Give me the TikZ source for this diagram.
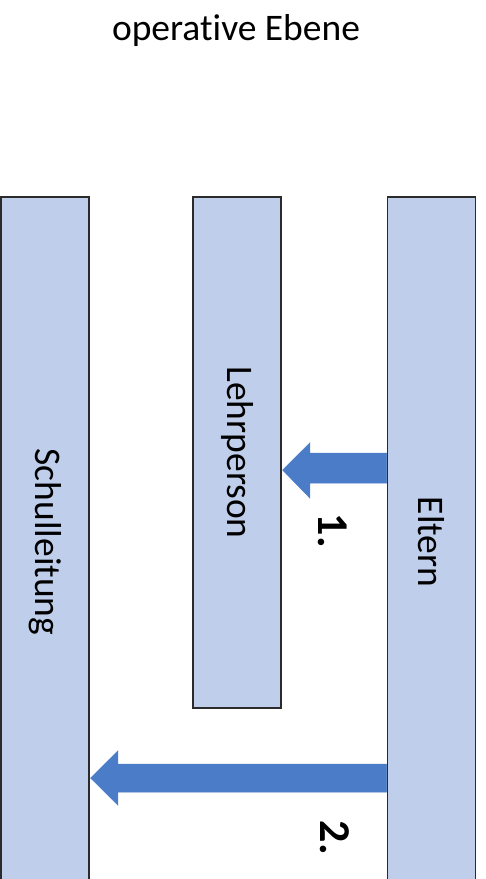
\documentclass[tikz,border=0pt]{standalone}
\usepackage{fontspec}
\setmainfont[Ligatures=NoCommon]{Carlito}
\usetikzlibrary{calc}
\definecolor{barfill}{HTML}{BFCEEA}
\definecolor{arrblue}{HTML}{4A7CC7}
\definecolor{barline}{HTML}{2B2B2B}
\tikzset{
  bar/.style={draw=barline, line width=1.6pt, fill=barfill, rectangle, rotate=-90,
    minimum height=88pt, inner sep=0pt, font=\fontsize{37.5}{40}\selectfont},
  arr/.style={fill=arrblue, draw=arrblue, line width=0.5pt},
  num/.style={rotate=-90, font=\fontsize{44}{48}\selectfont\bfseries, inner sep=0pt},
  title/.style={font=\fontsize{37.5}{40}\selectfont, inner sep=0pt}
}
\begin{document}
\begin{tikzpicture}[x=1pt,y=-1pt]
\useasboundingbox (0,0) rectangle (486,879);
\clip (0,0) rectangle (486,879);
\node[title] (title) at (236,30) {operative Ebene};
\node[bar, minimum width=690pt] (schul) at (45,542) {Schulleitung};
\node[bar, minimum width=511pt] (lehr) at (237,452.5) {Lehrperson};
\node[bar, minimum width=690pt] (eltern) at (431.5,542) {Eltern};
% arrow 1: Eltern -> Lehrperson
\draw[arr] (eltern.south |- 0,453) -- ($(lehr.north |- 0,453)+(28,0)$)
  -- ($(lehr.north |- 0,443)+(28,0)$) -- ($(lehr.north |- 0,470)+(0.8,0)$)
  -- ($(lehr.north |- 0,498)+(28,0)$) -- ($(lehr.north |- 0,483)+(28,0)$)
  -- (eltern.south |- 0,483) -- cycle;
% arrow 2: Eltern -> Schulleitung
\draw[arr] (eltern.south |- 0,764) -- ($(schul.north |- 0,764)+(28,0)$)
  -- ($(schul.north |- 0,751)+(28,0)$) -- ($(schul.north |- 0,778)+(0.8,0)$)
  -- ($(schul.north |- 0,805)+(28,0)$) -- ($(schul.north |- 0,792)+(28,0)$)
  -- (eltern.south |- 0,792) -- cycle;
\node[num] (n1) at (333,531) {1.};
\node[num] (n2) at (335,838) {2.};
\end{tikzpicture}
\end{document}
